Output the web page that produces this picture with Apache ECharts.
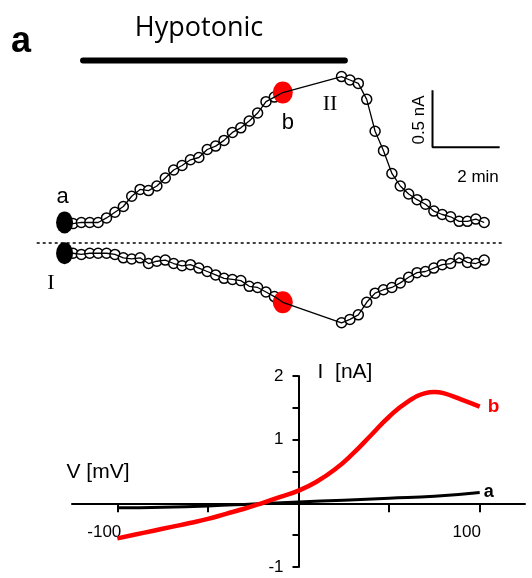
<!DOCTYPE html>
<html>
<head>
<meta charset="utf-8">
<script src="https://cdn.jsdelivr.net/npm/echarts@6.0.0/dist/echarts.min.js"></script>
<style>
  html, body { margin: 0; padding: 0; background: #fff; }
  #chart { width: 532px; height: 578px; }
</style>
</head>
<body>
<div id="chart"></div>
<script>
// ---- time course (min, nA), sampled every 15 s ----
var timeEarly = [0, 0.25, 0.5, 0.75, 1, 1.25, 1.5, 1.75, 2, 2.25, 2.5, 2.75, 3, 3.25, 3.5,
    3.75, 4, 4.25, 4.5, 4.75, 5, 5.25, 5.5, 5.75, 6, 6.25, 6.5];
var timeLate = [8.25, 8.5, 8.75, 9, 9.25, 9.5, 9.75, 10, 10.25, 10.5, 10.75, 11, 11.25,
    11.5, 11.75, 12, 12.25, 12.5];
// outward current (trace II)
var outEarly = [0.18, 0.17, 0.18, 0.18, 0.18, 0.22, 0.27, 0.32, 0.41, 0.47, 0.46, 0.50, 0.57,
    0.64, 0.68, 0.73, 0.75, 0.82, 0.85, 0.90, 0.97, 1.01, 1.07, 1.14, 1.24, 1.28, 1.32];
var outLate = [1.46, 1.43, 1.40, 1.26, 0.98, 0.81, 0.61, 0.50, 0.43, 0.38, 0.34, 0.28, 0.25,
    0.23, 0.19, 0.19, 0.21, 0.18];
// inward current (trace I)
var inEarly = [-0.09, -0.09, -0.10, -0.09, -0.09, -0.09, -0.10, -0.13, -0.14, -0.13, -0.18,
    -0.16, -0.15, -0.18, -0.20, -0.19, -0.22, -0.25, -0.28, -0.31, -0.32, -0.33, -0.38, -0.39,
    -0.43, -0.47, -0.52];
var inLate = [-0.70, -0.67, -0.63, -0.52, -0.44, -0.41, -0.39, -0.35, -0.30, -0.26, -0.25,
    -0.22, -0.19, -0.18, -0.13, -0.17, -0.18, -0.15];
var pointA = 0;    // index of sample "a"
var pointB = 26;   // index of sample "b"
var hypoStart = 0.55, hypoEnd = 8.35, hypoLevel = 1.6;
var baseStart = -0.83, baseEnd = 13.05;
var scaleT = 10.96, scaleI = 0.84, scaleMin = 2, scaleNA = 0.5;

// ---- I-V curves (mV, nA) ----
var voltB = [-100, -90, -80, -70, -60, -50, -40, -30, -20, -10, 0, 10, 20, 30, 40, 50, 60,
    70, 75, 80, 90, 100];
var currB = [-0.55, -0.49, -0.43, -0.37, -0.31, -0.245, -0.165, -0.085, 0.005, 0.10, 0.20,
    0.34, 0.53, 0.78, 1.07, 1.36, 1.59, 1.73, 1.75, 1.73, 1.63, 1.52];
var voltA = [-100, -75, -50, -25, 0, 25, 50, 75, 100];
var currA = [-0.07, -0.06, -0.04, -0.01, 0.02, 0.05, 0.08, 0.11, 0.17];
var vTicks = [-100, -50, 50, 100];
var vLabels = [-100, 100];
var iTicks = [-1, -0.5, 0, 0.5, 1, 1.5, 2];
var iLabels = [-1, 1, 2];

var SANS = "'Liberation Sans', Arial, sans-serif";
var SERIF = "'Liberation Serif', 'Times New Roman', serif";

// I-V grid (px) and the offsets that put both axes through the origin
var ivGrid = { left: 72, width: 453, top: 376, height: 191 };
var ivXOffset = -ivGrid.height * 1 / 3;   // y = 0 of a -1..2 range
var ivYOffset = -ivGrid.width / 2;        // x = 0 of a -125..125 range

function pairs(xs, ys) {
    return xs.map(function (x, i) { return [x, ys[i]]; });
}

var outData = pairs(timeEarly, outEarly).concat(pairs(timeLate, outLate));
var inData = pairs(timeEarly, inEarly).concat(pairs(timeLate, inLate));

var circleStyle = { color: '#fff', borderColor: '#000', borderWidth: 1.5, opacity: 1 };

function text(x, y, str, font, color, rot) {
    return {
        type: 'text', x: x, y: y, rotation: rot || 0,
        style: {
            text: str, font: font, fill: color || '#000',
            align: 'center', verticalAlign: 'middle',
            textAlign: 'center', textVerticalAlign: 'middle'
        }
    };
}

var chart = echarts.init(document.getElementById('chart'));
var option = {
    animation: false,
    backgroundColor: '#fff',
    grid: [
        { left: 31, right: 31, top: 15, height: 342, outerBoundsMode: 'none' },
        {
            left: ivGrid.left, width: ivGrid.width, top: ivGrid.top, height: ivGrid.height,
            outerBoundsMode: 'none'
        }
    ],
    xAxis: [
        { gridIndex: 0, type: 'value', min: -1, max: 13, show: false },
        {
            gridIndex: 1, type: 'value', min: -125, max: 125,
            position: 'bottom', offset: ivXOffset,
            axisLine: { onZero: false, lineStyle: { color: '#000', width: 2 } },
            axisTick: { customValues: vTicks, length: 9, lineStyle: { color: '#000', width: 2 } },
            axisLabel: {
                customValues: vLabels, margin: 20, color: '#000',
                fontFamily: SANS, fontSize: 17, padding: [0, 26, 0, 0]
            },
            splitLine: { show: false }
        }
    ],
    yAxis: [
        { gridIndex: 0, type: 'value', min: -1, max: 2, show: false },
        {
            gridIndex: 1, type: 'value', min: -1, max: 2,
            position: 'left', offset: ivYOffset,
            axisLine: { show: true, onZero: false, lineStyle: { color: '#000', width: 2 } },
            axisTick: { show: true, customValues: iTicks, length: 6, lineStyle: { color: '#000', width: 2 } },
            axisLabel: {
                customValues: iLabels, margin: 15, color: '#000',
                fontFamily: SANS, fontSize: 17
            },
            splitLine: { show: false }
        }
    ],
    graphic: [
        text(21, 42, 'a', 'bold 36px ' + SANS),
        text(199, 28, 'Hypotonic', "27px 'Open Sans', " + SANS),
        text(330, 104, 'II', '22px ' + SERIF),
        text(51, 283, 'I', '22px ' + SERIF),
        text(419, 120, '0.5 nA', '17px ' + SANS, '#000', Math.PI / 2),
        text(478, 177, '2 min', '17px ' + SANS),
        text(98, 472, 'V [mV]', '21px ' + SANS),
        text(345, 372, 'I  [nA]', '21px ' + SANS)
    ],
    series: [
        {
            type: 'line', xAxisIndex: 0, yAxisIndex: 0, silent: true, symbol: 'none',
            data: [[baseStart, 0], [baseEnd, 0]],
            lineStyle: { color: '#000', width: 1.5, type: [3, 3] }
        },
        {
            type: 'line', xAxisIndex: 0, yAxisIndex: 0, silent: true, symbol: 'none',
            data: [[hypoStart, hypoLevel], [hypoEnd, hypoLevel]],
            lineStyle: { color: '#000', width: 6, cap: 'round' }
        },
        {
            type: 'line', xAxisIndex: 0, yAxisIndex: 0, silent: true, symbol: 'none',
            data: [[scaleT, scaleI + scaleNA], [scaleT, scaleI], [scaleT + scaleMin, scaleI]],
            lineStyle: { color: '#000', width: 2 }
        },
        {
            type: 'line', xAxisIndex: 0, yAxisIndex: 0, symbol: 'none', data: outData,
            lineStyle: { color: '#000', width: 1.3 }
        },
        {
            type: 'line', xAxisIndex: 0, yAxisIndex: 0, symbol: 'none', data: inData,
            lineStyle: { color: '#000', width: 1.3 }
        },
        {
            type: 'scatter', xAxisIndex: 0, yAxisIndex: 0, symbolSize: 10,
            itemStyle: circleStyle, data: outData
        },
        {
            type: 'scatter', xAxisIndex: 0, yAxisIndex: 0, symbolSize: 10,
            itemStyle: circleStyle, data: inData
        },
        {
            type: 'scatter', xAxisIndex: 0, yAxisIndex: 0, symbolSize: [17, 22],
            itemStyle: { color: '#000', opacity: 1 },
            data: [
                { value: outData[pointA], label: { show: true, formatter: 'a' } },
                { value: inData[pointA] }
            ],
            label: { position: 'top', distance: 4, color: '#000', fontFamily: SANS, fontSize: 22, offset: [-2, 0] }
        },
        {
            type: 'scatter', xAxisIndex: 0, yAxisIndex: 0, symbolSize: [20, 22],
            itemStyle: { color: '#ff0000', opacity: 1 },
            data: [
                { value: outData[pointB], label: { show: true, formatter: 'b' } },
                { value: inData[pointB] }
            ],
            label: { position: 'bottom', distance: 8, color: '#000', fontFamily: SANS, fontSize: 22, offset: [5, 0] }
        },
        {
            type: 'line', xAxisIndex: 1, yAxisIndex: 1, symbol: 'none',
            data: pairs(voltA, currA), smooth: true,
            lineStyle: { color: '#000', width: 3 },
            endLabel: {
                show: true, formatter: 'a', distance: 4, color: '#000',
                fontFamily: SANS, fontSize: 18, fontWeight: 'bold'
            }
        },
        {
            type: 'line', xAxisIndex: 1, yAxisIndex: 1, symbol: 'none',
            data: pairs(voltB, currB), smooth: true,
            lineStyle: { color: '#ff0000', width: 4.5 },
            endLabel: {
                show: true, formatter: 'b', distance: 8, color: '#ff0000',
                fontFamily: SANS, fontSize: 19, fontWeight: 'bold'
            }
        }
    ]
};
chart.setOption(option);
</script>
</body>
</html>
